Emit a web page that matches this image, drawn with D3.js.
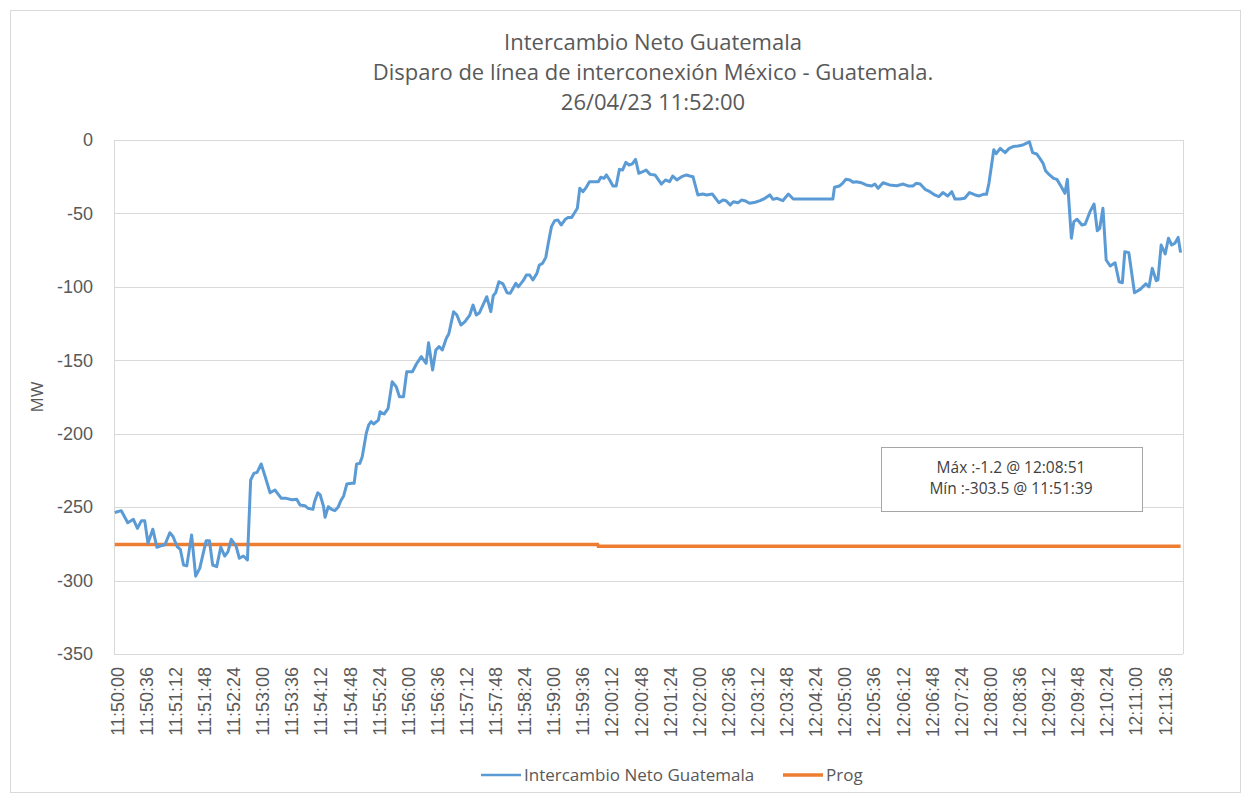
<!DOCTYPE html>
<html>
<head>
<meta charset="utf-8">
<script src="https://cdn.jsdelivr.net/npm/d3@7"></script>
<style>
  body { margin: 0; background: #fff; }
  svg { font-family: "Open Sans", "Noto Sans", sans-serif; }
</style>
</head>
<body>
<div id="grafico"></div>
<script>
// segundos desde las 11:50:00
const tiempoSeg = [0, 8, 16, 23, 28, 33, 37, 41, 47, 52, 56, 62, 68, 72, 77, 81, 85, 89, 95, 100,
  105, 113, 117, 121, 126, 131, 136, 140, 144, 150, 154, 159, 164, 168, 172, 176, 181, 186, 192, 198,
  206, 212, 219, 225, 229, 235, 239, 245, 247, 251, 254, 258, 260, 264, 268, 272, 276, 280, 283, 287,
  293, 296, 299, 303, 306, 311, 314, 317, 320, 326, 328, 333, 338, 343, 348, 352, 357, 361, 368, 373,
  379, 385, 388, 393, 397, 401, 405, 410, 413, 419, 423, 428, 433, 439, 443, 447, 451, 460, 465, 468,
  471, 475, 480, 485, 489, 496, 499, 505, 509, 513, 517, 522, 525, 529, 533, 536, 540, 544, 548, 552,
  557, 561, 565, 568, 572, 575, 579, 583, 587, 594, 598, 601, 605, 608, 612, 616, 620, 624, 628, 632,
  636, 640, 644, 648, 653, 657, 662, 668, 676, 681, 686, 690, 695, 701, 707, 711, 715, 721, 727, 732,
  739, 747, 752, 756, 761, 765, 771, 775, 779, 785, 792, 798, 804, 810, 814, 819, 826, 833, 839, 847,
  864, 880, 888, 890, 896, 900, 904, 909, 913, 917, 923, 929, 936, 940, 944, 950, 958, 967, 975, 981,
  987, 991, 996, 1002, 1008, 1014, 1019, 1024, 1030, 1035, 1039, 1045, 1051, 1057, 1064, 1069, 1074, 1078, 1081, 1087,
  1090, 1095, 1101, 1106, 1111, 1117, 1123, 1127, 1131, 1135, 1140, 1144, 1148, 1151, 1156, 1161, 1165, 1170, 1175, 1178,
  1183, 1186, 1190, 1196, 1200, 1206, 1211, 1215, 1218, 1222, 1226, 1231, 1237, 1242, 1246, 1249, 1254, 1261, 1268, 1275,
  1279, 1283, 1288, 1290, 1294, 1299, 1303, 1307, 1311, 1315, 1318];

const intercambio = [-253.6, -252.4, -260.6, -258.3, -264.4, -259.2, -259.2, -274.6, -265, -277.3, -276.5, -275.6, -267.4, -270, -276.8, -278.7, -289.4, -290, -269, -297,
  -291.7, -272.8, -272.8, -289.4, -290.5, -277.3, -283.3, -280.3, -271.9, -276.5, -284.8, -283.3, -286, -231.5, -227, -226.3, -220.6, -229.3, -240.2, -238.3,
  -244, -244, -245, -244.7, -248.5, -249, -250.8, -251.5, -246.3, -240.2, -241.7, -249.2, -256.9, -249.7, -251.5, -252.4, -250.1, -245.1, -242.4, -234.2,
  -233.7, -233.7, -220.6, -220.2, -215.7, -199.7, -194, -191.8, -193.4, -190.7, -185, -186.6, -182.7, -164.6, -168, -174.8, -174.8, -157.8, -157.8, -152.5,
  -147.5, -152.1, -138, -156.6, -143, -140.7, -143, -135, -132.1, -116.9, -119.2, -126, -123.7, -119.2, -112.4, -119.2, -117.6, -106.7, -116.9, -106,
  -104, -96.5, -98, -104, -104.4, -97.6, -100, -95.8, -91.9, -91.9, -95.3, -90.8, -85.1, -84, -79.9, -70.4, -59, -54.9, -54.5, -57.9,
  -54, -52.7, -52.7, -50, -46.5, -32.9, -35.2, -32.2, -28.4, -28.4, -28.4, -25.4, -26.1, -23.8, -27.2, -31.3, -31.3, -20, -20.4, -15.2,
  -17, -16.3, -13.2, -22.7, -21.6, -20.4, -23.4, -23.8, -30, -27.2, -28.4, -24.5, -27.2, -25, -23.8, -24.5, -25, -37.4, -36.8, -37.4,
  -36.8, -42.7, -40.9, -41.3, -44.3, -42, -42.7, -40.9, -41.3, -43.1, -42.4, -41.3, -39.7, -37.4, -40.4, -39.7, -41.3, -36.8, -40.2, -40.2,
  -40.2, -40.2, -40.2, -32.2, -31.3, -29.5, -26.8, -27.2, -28.8, -28.4, -29.1, -30.6, -31.3, -30, -32.9, -29.1, -30.6, -31.1, -30, -31.3,
  -31.3, -29.5, -30, -33.6, -35.2, -37.4, -38.6, -35.8, -38.1, -35.2, -40.2, -40.2, -39.7, -35.8, -37.4, -38.1, -37, -37, -29.5, -6.6,
  -9.3, -5.7, -8.6, -5.7, -4.5, -4.1, -3.4, -2.3, -1.2, -8.6, -9.5, -12.5, -15.9, -20.9, -23.8, -26.1, -26.8, -31.3, -36.3, -26.8,
  -66.9, -55.6, -54, -57.9, -57.4, -48.8, -43.6, -61.8, -60.2, -46.5, -81.7, -85.8, -83.6, -96.5, -97.2, -76.1, -76.7, -104, -101.7, -98,
  -100, -87.4, -95.8, -95.3, -71.5, -77.6, -66.9, -71.5, -70.3, -66.3, -76.7];

const progTiempo = [0, 597, 598, 1318];
const progValor = [-275.5, -275.5, -276.7, -276.7];

const etiquetasX = ["11:50:00", "11:50:36", "11:51:12", "11:51:48", "11:52:24", "11:53:00", "11:53:36",
  "11:54:12", "11:54:48", "11:55:24", "11:56:00", "11:56:36", "11:57:12", "11:57:48", "11:58:24",
  "11:59:00", "11:59:36", "12:00:12", "12:00:48", "12:01:24", "12:02:00", "12:02:36", "12:03:12",
  "12:03:48", "12:04:24", "12:05:00", "12:05:36", "12:06:12", "12:06:48", "12:07:24", "12:08:00",
  "12:08:36", "12:09:12", "12:09:48", "12:10:24", "12:11:00", "12:11:36"];
const pasoEtiqueta = 36; // segundos entre etiquetas
const ticksY = [0, -50, -100, -150, -200, -250, -300, -350];

const titulo = ["Intercambio Neto Guatemala",
  "Disparo de línea de interconexión México - Guatemala.",
  "26/04/23 11:52:00"];
const notas = ["Máx :-1.2 @ 12:08:51", "Mín :-303.5 @ 11:51:39"];

// tamaño
const width = 1241;
const height = 793;
const margin = { top: 140, right: 58, bottom: 139, left: 114 };
const gris = "#595959";

const svg = d3.select("#grafico").append("svg")
  .attr("width", width)
  .attr("height", height);

// marco exterior
svg.append("rect")
  .attr("x", 10.5).attr("y", 10.5)
  .attr("width", width - 11).attr("height", height - 11)
  .attr("fill", "none").attr("stroke", "#d9d9d9");

const x = d3.scaleLinear()
  .domain([-1, 1321])
  .range([margin.left, width - margin.right]);

const y = d3.scaleLinear()
  .domain([-350, 0])
  .range([height - margin.bottom, margin.top]);

// rejilla
svg.append("g")
  .selectAll("line")
  .data(ticksY)
  .join("line")
  .attr("x1", margin.left).attr("x2", width - margin.right)
  .attr("y1", d => Math.round(y(d)) + 0.5).attr("y2", d => Math.round(y(d)) + 0.5)
  .attr("stroke", "#d9d9d9");

// bordes laterales
[margin.left, width - margin.right].forEach(px => {
  svg.append("line")
    .attr("x1", px + 0.5).attr("x2", px + 0.5)
    .attr("y1", margin.top).attr("y2", height - margin.bottom)
    .attr("stroke", "#d9d9d9");
});

// eje Y
const ejeY = svg.append("g")
  .attr("transform", `translate(${margin.left - 18},0)`)
  .call(d3.axisLeft(y).tickValues(ticksY).tickSize(0).tickFormat(d => String(d)));
ejeY.select(".domain").remove();
ejeY.selectAll("text")
  .attr("fill", gris)
  .style("font-size", "18px");

// eje X, etiquetas verticales
const ejeX = svg.append("g")
  .attr("transform", `translate(2,${height - margin.bottom})`)
  .call(d3.axisBottom(x)
    .tickValues(etiquetasX.map((d, i) => i * pasoEtiqueta))
    .tickSize(0)
    .tickFormat((d, i) => etiquetasX[i]));
ejeX.select(".domain").remove();
ejeX.selectAll("text")
  .attr("fill", gris)
  .style("font-size", "18px")
  .attr("text-anchor", "end")
  .attr("transform", "rotate(-90)")
  .attr("x", -13)
  .attr("y", 0)
  .attr("dy", "0.35em");

// título eje
svg.append("text")
  .attr("transform", `translate(43,${(margin.top + height - margin.bottom) / 2}) rotate(-90)`)
  .attr("text-anchor", "middle")
  .attr("fill", gris)
  .style("font-size", "17px")
  .text("MW");

// título
svg.append("g")
  .selectAll("text")
  .data(titulo)
  .join("text")
  .attr("x", 653)
  .attr("y", (d, i) => 50 + i * 30)
  .attr("text-anchor", "middle")
  .attr("fill", gris)
  .style("font-size", "22px")
  .text(d => d);

// líneas
const linea = d3.line()
  .x(d => x(d[0]))
  .y(d => y(d[1]));

svg.append("path")
  .datum(d3.zip(progTiempo, progValor))
  .attr("fill", "none")
  .attr("stroke", "#ed7d31")
  .attr("stroke-width", 3.5)
  .attr("d", linea);

svg.append("path")
  .datum(d3.zip(tiempoSeg, intercambio))
  .attr("fill", "none")
  .attr("stroke", "#5b9bd5")
  .attr("stroke-width", 3)
  .attr("stroke-linejoin", "round")
  .attr("d", linea);

// recuadro máx / mín
svg.append("rect")
  .attr("x", 881.5).attr("y", 447.5)
  .attr("width", 261).attr("height", 64)
  .attr("fill", "#fff").attr("stroke", "#a6a6a6");

svg.append("g")
  .selectAll("text")
  .data(notas)
  .join("text")
  .attr("x", 1011)
  .attr("y", (d, i) => 473 + i * 21)
  .attr("text-anchor", "middle")
  .attr("fill", "#404040")
  .style("font-size", "15.5px")
  .text(d => d);

// leyenda
const leyenda = [
  { nombre: "Intercambio Neto Guatemala", color: "#5b9bd5", ancho: 2.5, x0: 481 },
  { nombre: "Prog", color: "#ed7d31", ancho: 3.5, x0: 783 }
];
const ley = svg.append("g")
  .selectAll("g")
  .data(leyenda)
  .join("g")
  .attr("transform", d => `translate(${d.x0},775)`);
ley.append("line")
  .attr("x1", 0).attr("x2", 40)
  .attr("stroke", d => d.color)
  .attr("stroke-width", d => d.ancho);
ley.append("text")
  .attr("x", 43)
  .attr("dy", "0.35em")
  .attr("fill", gris)
  .style("font-size", "17px")
  .text(d => d.nombre);
</script>
</body>
</html>
